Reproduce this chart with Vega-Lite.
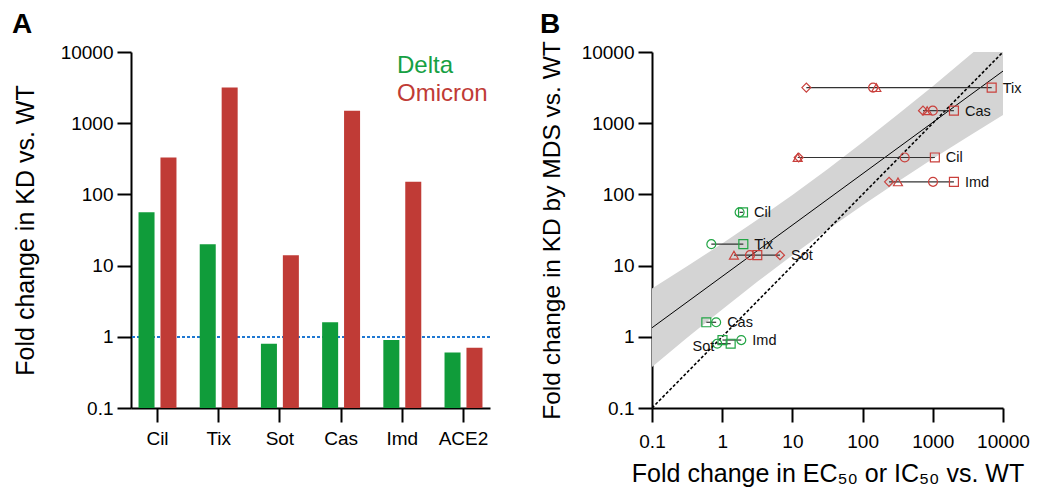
{
  "$schema": "https://vega.github.io/schema/vega-lite/v6.json",
  "padding": {"left": 12, "top": 10, "right": 5, "bottom": 1},
  "config": {
    "font": "Liberation Sans",
    "view": {"stroke": null},
    "axis": {"domainColor": "#000", "domainWidth": 2, "tickColor": "#000", "tickWidth": 2, "tickSize": 14, "labelFontSize": 19, "labelColor": "#000", "titleFontSize": 25, "titleFontWeight": "normal", "titleColor": "#000", "grid": false, "labelPadding": 4, "labelFlush": false},
    "title": {"fontSize": 28, "fontWeight": "bold", "color": "#000", "anchor": "start", "frame": "group", "baseline": "alphabetic"}
  },
  "datasets": {
    "bars": [
      {"ab": "Cil", "variant": "Delta", "fc": 56},
      {"ab": "Cil", "variant": "Omicron", "fc": 330},
      {"ab": "Tix", "variant": "Delta", "fc": 20},
      {"ab": "Tix", "variant": "Omicron", "fc": 3160},
      {"ab": "Sot", "variant": "Delta", "fc": 0.8},
      {"ab": "Sot", "variant": "Omicron", "fc": 14},
      {"ab": "Cas", "variant": "Delta", "fc": 1.6},
      {"ab": "Cas", "variant": "Omicron", "fc": 1500},
      {"ab": "Imd", "variant": "Delta", "fc": 0.9},
      {"ab": "Imd", "variant": "Omicron", "fc": 150},
      {"ab": "ACE2", "variant": "Delta", "fc": 0.6},
      {"ab": "ACE2", "variant": "Omicron", "fc": 0.7}
    ],
    "points": [
      {"ab": "Tix", "variant": "Omicron", "assay": "Assay 4", "x": 15.8, "y": 3160},
      {"ab": "Tix", "variant": "Omicron", "assay": "Assay 2", "x": 141, "y": 3160},
      {"ab": "Tix", "variant": "Omicron", "assay": "Assay 3", "x": 157, "y": 3160},
      {"ab": "Tix", "variant": "Omicron", "assay": "Assay 1", "x": 6900, "y": 3160},
      {"ab": "Cas", "variant": "Omicron", "assay": "Assay 4", "x": 725, "y": 1500},
      {"ab": "Cas", "variant": "Omicron", "assay": "Assay 3", "x": 830, "y": 1500},
      {"ab": "Cas", "variant": "Omicron", "assay": "Assay 2", "x": 1000, "y": 1500},
      {"ab": "Cas", "variant": "Omicron", "assay": "Assay 1", "x": 2000, "y": 1500},
      {"ab": "Cil", "variant": "Omicron", "assay": "Assay 3", "x": 11.9, "y": 330},
      {"ab": "Cil", "variant": "Omicron", "assay": "Assay 4", "x": 12.3, "y": 330},
      {"ab": "Cil", "variant": "Omicron", "assay": "Assay 2", "x": 398, "y": 330},
      {"ab": "Cil", "variant": "Omicron", "assay": "Assay 1", "x": 1070, "y": 330},
      {"ab": "Imd", "variant": "Omicron", "assay": "Assay 4", "x": 238, "y": 150},
      {"ab": "Imd", "variant": "Omicron", "assay": "Assay 3", "x": 319, "y": 150},
      {"ab": "Imd", "variant": "Omicron", "assay": "Assay 2", "x": 1007, "y": 150},
      {"ab": "Imd", "variant": "Omicron", "assay": "Assay 1", "x": 2000, "y": 150},
      {"ab": "Sot", "variant": "Omicron", "assay": "Assay 3", "x": 1.47, "y": 14},
      {"ab": "Sot", "variant": "Omicron", "assay": "Assay 2", "x": 2.49, "y": 14},
      {"ab": "Sot", "variant": "Omicron", "assay": "Assay 1", "x": 3.16, "y": 14},
      {"ab": "Sot", "variant": "Omicron", "assay": "Assay 4", "x": 6.66, "y": 14},
      {"ab": "Cil", "variant": "Delta", "assay": "Assay 2", "x": 1.77, "y": 56},
      {"ab": "Cil", "variant": "Delta", "assay": "Assay 1", "x": 1.98, "y": 56},
      {"ab": "Tix", "variant": "Delta", "assay": "Assay 2", "x": 0.7, "y": 20},
      {"ab": "Tix", "variant": "Delta", "assay": "Assay 1", "x": 2.0, "y": 20},
      {"ab": "Cas", "variant": "Delta", "assay": "Assay 1", "x": 0.594, "y": 1.6},
      {"ab": "Cas", "variant": "Delta", "assay": "Assay 2", "x": 0.82, "y": 1.6},
      {"ab": "Imd", "variant": "Delta", "assay": "Assay 1", "x": 1.01, "y": 0.9},
      {"ab": "Imd", "variant": "Delta", "assay": "Assay 2", "x": 1.87, "y": 0.9},
      {"ab": "Sot", "variant": "Delta", "assay": "Assay 2", "x": 0.85, "y": 0.8},
      {"ab": "Sot", "variant": "Delta", "assay": "Assay 1", "x": 1.32, "y": 0.8}
    ],
    "band": [
      {"x": 0.1, "y": 0.378, "hi": 4.75},
      {"x": 0.316, "y": 0.966, "hi": 9.77},
      {"x": 1, "y": 2.42, "hi": 20.5},
      {"x": 3.16, "y": 5.92, "hi": 44.2},
      {"x": 10, "y": 14.0, "hi": 98.2},
      {"x": 31.6, "y": 32.0, "hi": 226},
      {"x": 100, "y": 70.6, "hi": 538},
      {"x": 316, "y": 151, "hi": 1321},
      {"x": 1000, "y": 316, "hi": 3311},
      {"x": 3162, "y": 647, "hi": 8551},
      {"x": 10000, "y": 1303, "hi": 22336}
    ],
    "lines": [
      {"kind": "fit", "x": 0.1, "y": 1.34},
      {"kind": "fit", "x": 10000, "y": 5400},
      {"kind": "identity", "x": 0.1, "y": 0.1},
      {"kind": "identity", "x": 10000, "y": 10000}
    ]
  },
  "spacing": 48,
  "resolve": {"scale": {"color": "independent", "shape": "independent"}, "legend": {"color": "independent", "shape": "independent"}},
  "hconcat": [
    {
      "width": 359,
      "height": 356,
      "title": {"text": "A", "dx": -119, "offset": 4.5},
      "data": {"name": "bars"},
      "layer": [
        {
          "mark": {"type": "rule", "strokeDash": [3, 2], "strokeWidth": 1.5, "color": "#1f78d1"},
          "encoding": {"y": {"datum": 1, "type": "quantitative", "scale": {"type": "log", "domain": [0.1, 10000], "nice": false}}}
        },
        {
          "mark": {"type": "bar"},
          "encoding": {
            "x": {"field": "ab", "type": "nominal", "sort": ["Cil", "Tix", "Sot", "Cas", "Imd", "ACE2"], "scale": {"paddingInner": 0.38, "paddingOuter": 0.123}, "axis": {"title": null, "labelAngle": 0, "labelPadding": 7}},
            "xOffset": {"field": "variant", "type": "nominal", "sort": ["Delta", "Omicron"], "scale": {"paddingInner": 0.27, "paddingOuter": 0}},
            "y": {"field": "fc", "type": "quantitative", "scale": {"type": "log", "domain": [0.1, 10000], "nice": false}, "axis": {"values": [0.1, 1, 10, 100, 1000, 10000], "format": "~g", "title": "Fold change in KD vs. WT", "titlePadding": 22}},
            "y2": {"datum": 0.1},
            "color": {
              "field": "variant", "type": "nominal",
              "scale": {"domain": ["Delta", "Omicron"], "range": ["#109c3a", "#c03b36"]},
              "legend": {
                "title": null, "orient": "top-right", "offset": 2, "padding": 0,
                "symbolSize": 0, "symbolStrokeWidth": 0, "symbolOpacity": 0, "labelOffset": 0,
                "labelFontSize": 24, "rowPadding": 4,
                "encode": {"labels": {"update": {"fill": {"signal": "datum.value === 'Delta' ? '#16a043' : '#c03b36'"}}}}
              }
            }
          }
        }
      ]
    },
    {
      "width": 351,
      "height": 356,
      "title": {"text": "B", "dx": -112, "offset": 2},
      "encoding": {
        "x": {"field": "x", "type": "quantitative", "scale": {"type": "log", "domain": [0.1, 10000], "nice": false}, "axis": {"values": [0.1, 1, 10, 100, 1000, 10000], "format": "~g", "title": "Fold change in EC₅₀ or IC₅₀ vs. WT", "labelPadding": 10, "titlePadding": 10}},
        "y": {"field": "y", "type": "quantitative", "scale": {"type": "log", "domain": [0.1, 10000], "nice": false}, "axis": {"values": [0.1, 1, 10, 100, 1000, 10000], "format": "~g", "title": "Fold change in KD by MDS vs. WT", "titleFontSize": 24.5, "titlePadding": 17}}
      },
      "layer": [
        {
          "data": {"name": "band"},
          "mark": {"type": "area", "color": "#d4d4d4", "opacity": 1, "clip": true},
          "encoding": {"y2": {"field": "hi"}}
        },
        {
          "data": {"name": "lines"},
          "transform": [{"filter": "datum.kind === 'fit'"}],
          "mark": {"type": "line", "color": "#000", "strokeWidth": 1, "clip": true},
          "encoding": {}
        },
        {
          "data": {"name": "lines"},
          "transform": [{"filter": "datum.kind === 'identity'"}],
          "mark": {"type": "line", "color": "#000", "strokeWidth": 1.6, "strokeDash": [3, 2], "clip": true},
          "encoding": {}
        },
        {
          "data": {"name": "points"},
          "transform": [{"aggregate": [{"op": "min", "field": "x", "as": "xmin"}, {"op": "max", "field": "x", "as": "xmax"}], "groupby": ["ab", "variant", "y"]}],
          "mark": {"type": "rule", "color": "#333", "strokeWidth": 1.2},
          "encoding": {"x": {"field": "xmin", "type": "quantitative"}, "x2": {"field": "xmax"}}
        },
        {
          "data": {"name": "points"},
          "mark": {"type": "point", "filled": false, "strokeWidth": 1.2, "size": 80, "opacity": 1},
          "encoding": {
            "shape": {"field": "assay", "type": "nominal", "scale": {"domain": ["Assay 1", "Assay 2", "Assay 3", "Assay 4"], "range": ["square", "circle", "triangle-up", "diamond"]}, "legend": null},
            "color": {"field": "variant", "type": "nominal", "scale": {"domain": ["Delta", "Omicron"], "range": ["#22a545", "#c9403c"]}, "legend": null}
          }
        },
        {
          "data": {"name": "points"},
          "transform": [
            {"filter": "!(datum.ab === 'Sot' && datum.variant === 'Delta')"},
            {"aggregate": [{"op": "max", "field": "x", "as": "xlab"}], "groupby": ["ab", "variant", "y"]}
          ],
          "mark": {"type": "text", "align": "left", "baseline": "middle", "dx": 11, "dy": 1, "fontSize": 14.5, "color": "#111"},
          "encoding": {"x": {"field": "xlab", "type": "quantitative"}, "text": {"field": "ab"}}
        },
        {
          "data": {"name": "points"},
          "transform": [
            {"filter": "datum.ab === 'Sot' && datum.variant === 'Delta'"},
            {"aggregate": [{"op": "min", "field": "x", "as": "xleft"}], "groupby": ["ab", "variant", "y"]}
          ],
          "mark": {"type": "text", "align": "right", "baseline": "middle", "dx": -3, "dy": 3, "fontSize": 14.5, "color": "#111"},
          "encoding": {"x": {"field": "xleft", "type": "quantitative"}, "text": {"field": "ab"}}
        },
        {
          "data": {"values": [{"t": "R = 0.8, p = 1.4 x 10⁻⁷"}]},
          "mark": {"type": "text", "align": "left", "baseline": "alphabetic", "dx": 6, "dy": 13, "fontSize": 13.5, "color": "#000"},
          "encoding": {"x": {"datum": 0.1}, "y": {"datum": 10000}, "text": {"field": "t"}}
        }
      ]
    }
  ]
}
